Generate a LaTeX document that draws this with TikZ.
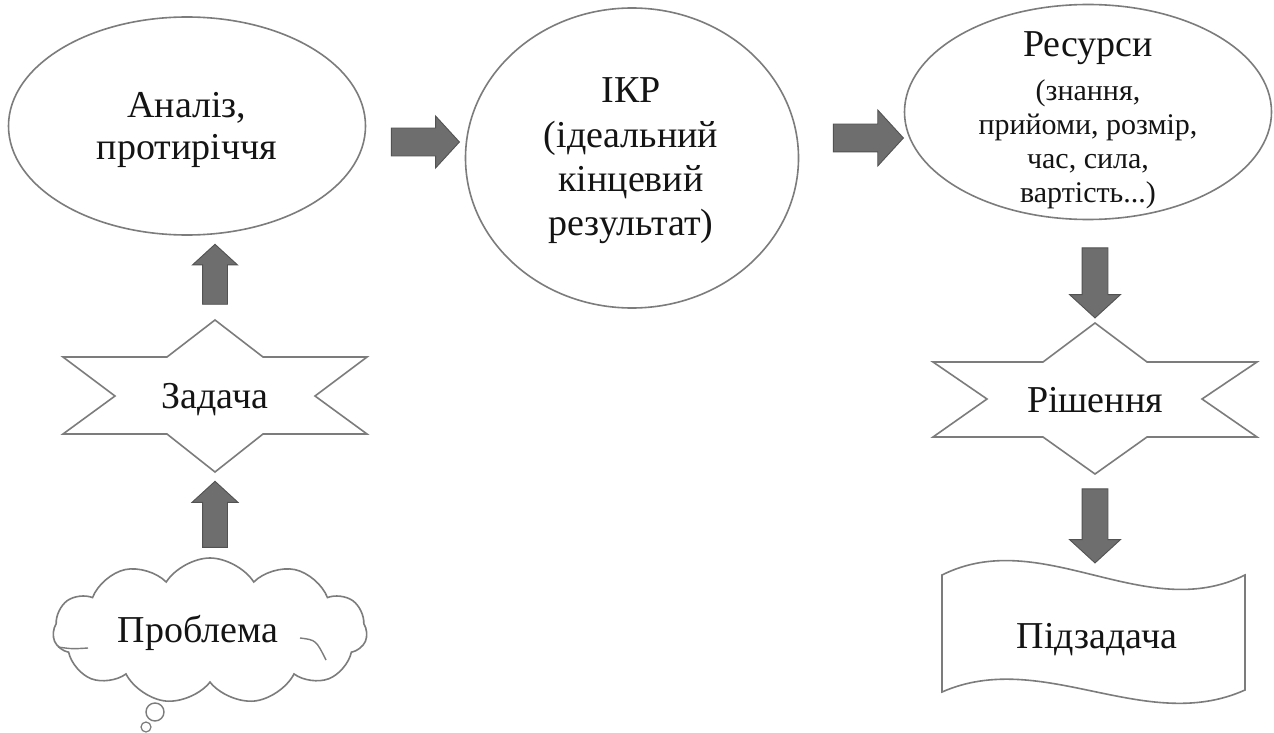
\documentclass[tikz,border=0pt]{standalone}
\usepackage{fontspec}
\setmainfont{Liberation Serif}
\usetikzlibrary{shapes.geometric,shapes.symbols,shapes.arrows}
\definecolor{edgegray}{HTML}{7C7C7C}
\definecolor{arrfill}{HTML}{6E6E6E}
\definecolor{arrdraw}{HTML}{525252}
\definecolor{txtcol}{HTML}{141414}
\begin{document}
\begin{tikzpicture}[x=1pt,y=-1pt,
  outl/.style={draw=edgegray, line width=1.6pt, fill=white},
  txt/.style={anchor=base, inner sep=0pt, text=txtcol, font=\fontsize{38}{40}\selectfont},
  smalltxt/.style={anchor=base, inner sep=0pt, text=txtcol, font=\fontsize{30}{32}\selectfont},
  blockarr/.style={single arrow, draw=arrdraw, fill=arrfill, line width=0.9pt,
    inner xsep=0pt, single arrow tip angle=95, anchor=center}
]
\useasboundingbox[fill=white] (0,0) rectangle (1274,733);

% ellipses
\node[ellipse, outl, minimum width=357, minimum height=218] (analysis) at (187,126) {};
\node[ellipse, outl, minimum width=333, minimum height=300] (ikr) at (632,158) {};
\node[ellipse, outl, minimum width=367, minimum height=215] (resources) at (1088,112) {};

% stars
\draw[outl] (215,396) ++(0,-76) -- ++(48,37) -- ++(104,0) -- ++(-52,39) -- ++(52,38)
  -- ++(-104,0) -- ++(-48,38) -- ++(-48,-38) -- ++(-104,0) -- ++(52,-38) -- ++(-52,-39)
  -- ++(104,0) -- cycle;
\coordinate (taskc) at (215,396);
\draw[outl] (1095,399) ++(0,-76) -- ++(52,39) -- ++(110,0) -- ++(-55,37) -- ++(55,38)
  -- ++(-110,0) -- ++(-52,37) -- ++(-52,-37) -- ++(-110,0) -- ++(54,-38) -- ++(-54,-37)
  -- ++(110,0) -- cycle;
\coordinate (solc) at (1095,399);

% wave (subtask)
\draw[outl] (942,575) .. controls (1042,525) and (1145,625) .. (1245,575)
  -- (1245,690) .. controls (1145,735) and (1042,648) .. (942,692) -- cycle;

% cloud (problem)
\node[cloud, outl, cloud puffs=11, cloud puff arc=115, aspect=2.1,
  minimum width=314, minimum height=146] (cloudn) at (210,631) {};
\draw[edgegray, line width=1.4pt] (300,638) .. controls (316,640) .. (326,660);
\draw[edgegray, line width=1.4pt] (58,647) .. controls (72,649) .. (88,648);
\draw[edgegray, line width=1.4pt, fill=white] (155,712) circle[radius=9];
\draw[edgegray, line width=1.2pt, fill=white] (146,727) circle[radius=5];

% block arrows
\node[blockarr, minimum height=68, inner ysep=13.5, single arrow head extend=12] (a1) at (419,142) {};
\node[blockarr, minimum height=70, inner ysep=13.5, single arrow head extend=14] (a2) at (862,138) {};
\node[blockarr, rotate=90, minimum height=60, inner ysep=12, single arrow head extend=10] (a3) at (215,280) {};
\node[blockarr, rotate=90, minimum height=66, inner ysep=12, single arrow head extend=10.5] (a4) at (215,520) {};
\node[blockarr, rotate=-90, minimum height=70, inner ysep=12.5, single arrow head extend=12.5] (a5) at (1095,277) {};
\node[blockarr, rotate=-90, minimum height=74, inner ysep=12.5, single arrow head extend=12.5] (a6) at (1095,520) {};

% texts
\node[txt] (t1a) at (187,118) {Аналіз,};
\node[txt] (t1b) at (187,160) {протиріччя};

\node[txt] (t2a) at (631,102.5) {ІКР};
\node[txt] (t2b) at (631,147) {(ідеальний};
\node[txt] (t2c) at (631,191) {кінцевий};
\node[txt] (t2d) at (631,235) {результат)};

\node[txt] (t3a) at (1088,57) {Ресурси};
\node[smalltxt] (t3b) at (1088,101) {(знання,};
\node[smalltxt] (t3c) at (1088,135) {прийоми, розмір,};
\node[smalltxt] (t3d) at (1088,168) {час, сила,};
\node[smalltxt] (t3e) at (1088,202) {вартість...)};

\node[txt] (t4) at (215,408) {Задача};
\node[txt] (t5) at (1095,412) {Рішення};
\node[txt] (t6) at (1097,648) {Підзадача};
\node[txt] (t7) at (198,642) {Проблема};
\end{tikzpicture}
\end{document}
